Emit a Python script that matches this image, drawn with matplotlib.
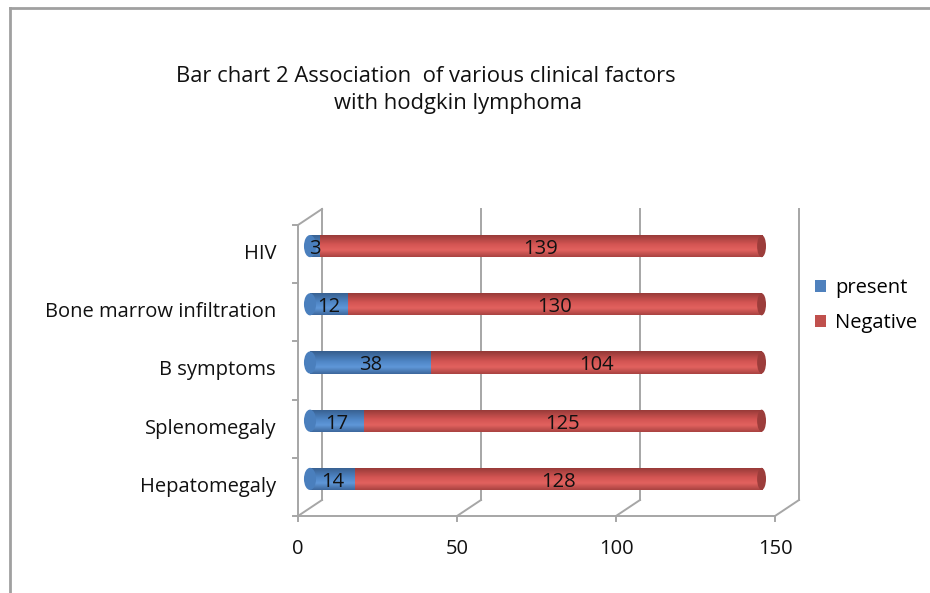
import numpy as np
import matplotlib
matplotlib.use("Agg")
import matplotlib.pyplot as plt
import matplotlib.transforms as mtransforms
from matplotlib.patches import Ellipse, Patch
from matplotlib.colors import LinearSegmentedColormap
from matplotlib.lines import Line2D

plt.rcParams['font.family'] = ['Open Sans', 'DejaVu Sans']

# ---- data ----
categories = ["Hepatomegaly", "Splenomegaly", "B symptoms", "Bone marrow infiltration", "HIV"]
present = [14, 17, 38, 12, 3]
negative = [128, 125, 104, 130, 139]
series_names = ["present", "Negative"]
xticks = [0, 50, 100, 150]
title_line1 = "Bar chart 2 Association  of various clinical factors"
title_line2 = "with hodgkin lymphoma"

W, H, DPI = 930, 593, 100
fig = plt.figure(figsize=(W / DPI, H / DPI), dpi=DPI)
fig.patch.set_facecolor("white")

FS = 14.5

# middle-depth plane of the 3D box (pixels)
DX, DY = 12, 8
x0_px, x1_px = 310, 787
ytop_px, ybot_px = 217, 508
ax = fig.add_axes([x0_px / W, (H - ybot_px) / H, (x1_px - x0_px) / W, (ybot_px - ytop_px) / H])
ax.set_xlim(0, 150)
ax.set_ylim(-0.5, len(categories) - 0.5)
ax.axis("off")

front = mtransforms.offset_copy(ax.transData, fig=fig, x=-DX, y=-DY, units="dots")
back = mtransforms.offset_copy(ax.transData, fig=fig, x=DX, y=DY, units="dots")

grid_c = "#a6a6a6"
ylo, yhi = -0.5, len(categories) - 0.5

# back wall grid lines
for xv in xticks:
    ax.plot([xv, xv], [ylo, yhi], color=grid_c, lw=1.4, transform=back, clip_on=False, zorder=1)

def to_data(trans, x, y):
    return ax.transData.inverted().transform(trans.transform((x, y)))

for xv in xticks:
    p1 = to_data(front, xv, ylo)
    p2 = to_data(back, xv, ylo)
    ax.plot([p1[0], p2[0]], [p1[1], p2[1]], color=grid_c, lw=1.4, clip_on=False, zorder=1)
p1 = to_data(front, 0, yhi)
p2 = to_data(back, 0, yhi)
ax.plot([p1[0], p2[0]], [p1[1], p2[1]], color=grid_c, lw=1.4, clip_on=False, zorder=1)

# front axes lines
ax.plot([0, 150], [ylo, ylo], color=grid_c, lw=1.4, transform=front, clip_on=False, zorder=1)
ax.plot([0, 0], [ylo, yhi], color=grid_c, lw=1.4, transform=front, clip_on=False, zorder=1)

tick_down = mtransforms.offset_copy(front, fig=fig, x=0, y=-5, units="dots")
for xv in xticks:
    p1 = to_data(front, xv, ylo)
    p2 = to_data(tick_down, xv, ylo)
    ax.plot([p1[0], p2[0]], [p1[1], p2[1]], color=grid_c, lw=1.4, clip_on=False, zorder=1)
tick_left = mtransforms.offset_copy(front, fig=fig, x=-5, y=0, units="dots")
for yv in np.arange(ylo, yhi + 0.01, 1.0):
    p1 = to_data(front, 0, yv)
    p2 = to_data(tick_left, 0, yv)
    ax.plot([p1[0], p2[0]], [p1[1], p2[1]], color=grid_c, lw=1.4, clip_on=False, zorder=1)

# ---- bars (cylinders) ----
y = np.arange(len(categories))
bh = 0.38
blue_cmap = LinearSegmentedColormap.from_list(
    "b", [(0, "#3d679c"), (0.3, "#5f97d8"), (0.55, "#4f86c6"), (1, "#365d8c")])
red_cmap = LinearSegmentedColormap.from_list(
    "r", [(0, "#a94341"), (0.3, "#e2625f"), (0.55, "#d45553"), (1, "#923836")])
grad = np.linspace(1, 0, 64).reshape(-1, 1)

pres = np.array(present)
neg = np.array(negative)
tot = pres + neg

# left rounded ends
for yi in y:
    e = Ellipse((0, yi), width=3.8, height=bh, facecolor="#4a7fbd", edgecolor="none",
                zorder=3.6, clip_on=False)
    ax.add_patch(e)

bars_p = ax.barh(y, pres, height=bh, color="#4f81bd", zorder=3)
bars_n = ax.barh(y, neg, left=pres, height=bh, color="#c0504d", zorder=3)
for bars, cmap in ((bars_p, blue_cmap), (bars_n, red_cmap)):
    for b in bars:
        x_, y_ = b.get_x(), b.get_y()
        w_, h_ = b.get_width(), b.get_height()
        im = ax.imshow(grad, cmap=cmap, aspect="auto", extent=[x_, x_ + w_, y_, y_ + h_],
                       zorder=3.5, interpolation="bilinear")
        im.set_clip_path(b)
ax.set_xlim(0, 150)
ax.set_ylim(ylo, yhi)

# right end caps
for yi, t in zip(y, tot):
    e = Ellipse((t, yi), width=2.8, height=bh, facecolor="#9c3d3b", edgecolor="none",
                zorder=4, clip_on=False)
    ax.add_patch(e)

# data labels
lab_tr = mtransforms.offset_copy(ax.transData, fig=fig, x=0, y=-3, units="dots")
for yi, p, n in zip(y, pres, neg):
    ax.text(p / 2, yi, str(p), ha="center", va="center", fontsize=FS, color="#111111",
            transform=lab_tr, zorder=5)
    ax.text(p + n / 2, yi, str(n), ha="center", va="center", fontsize=FS, color="#111111",
            transform=lab_tr, zorder=5)

# category labels
cat_tr = mtransforms.offset_copy(front, fig=fig, x=-22, y=0, units="dots")
for yi, c in zip(y, categories):
    ax.text(0, yi, c, ha="right", va="center", fontsize=FS, color="#111111",
            transform=cat_tr, clip_on=False)

# x tick labels
xt_tr = mtransforms.offset_copy(front, fig=fig, x=0, y=-33, units="dots")
for xv in xticks:
    ax.text(xv, ylo, str(xv), ha="center", va="center", fontsize=FS, color="#111111",
            transform=xt_tr, clip_on=False)

# title
fig.text(426 / W, 1 - 77 / H, title_line1, ha="center", va="center", fontsize=15.8, color="#111111")
fig.text(458 / W, 1 - 104 / H, title_line2, ha="center", va="center", fontsize=15.8, color="#111111")

# legend
handles = [Patch(facecolor="#4f81bd", edgecolor="none"), Patch(facecolor="#c0504d", edgecolor="none")]
fig.legend(handles, series_names, loc="upper left", bbox_to_anchor=(797 / W, 1 - 260 / H),
           frameon=False, fontsize=FS, handlelength=0.55, handleheight=0.55, handletextpad=0.45,
           labelspacing=0.75)

# outer frame (top and left edges)
fig.add_artist(Line2D([10 / W, 1], [1 - 8 / H, 1 - 8 / H], color="#a0a0a0", lw=2))
fig.add_artist(Line2D([10 / W, 10 / W], [0, 1 - 8 / H], color="#a0a0a0", lw=2))

fig.savefig("out.png", dpi=DPI, facecolor="white")
